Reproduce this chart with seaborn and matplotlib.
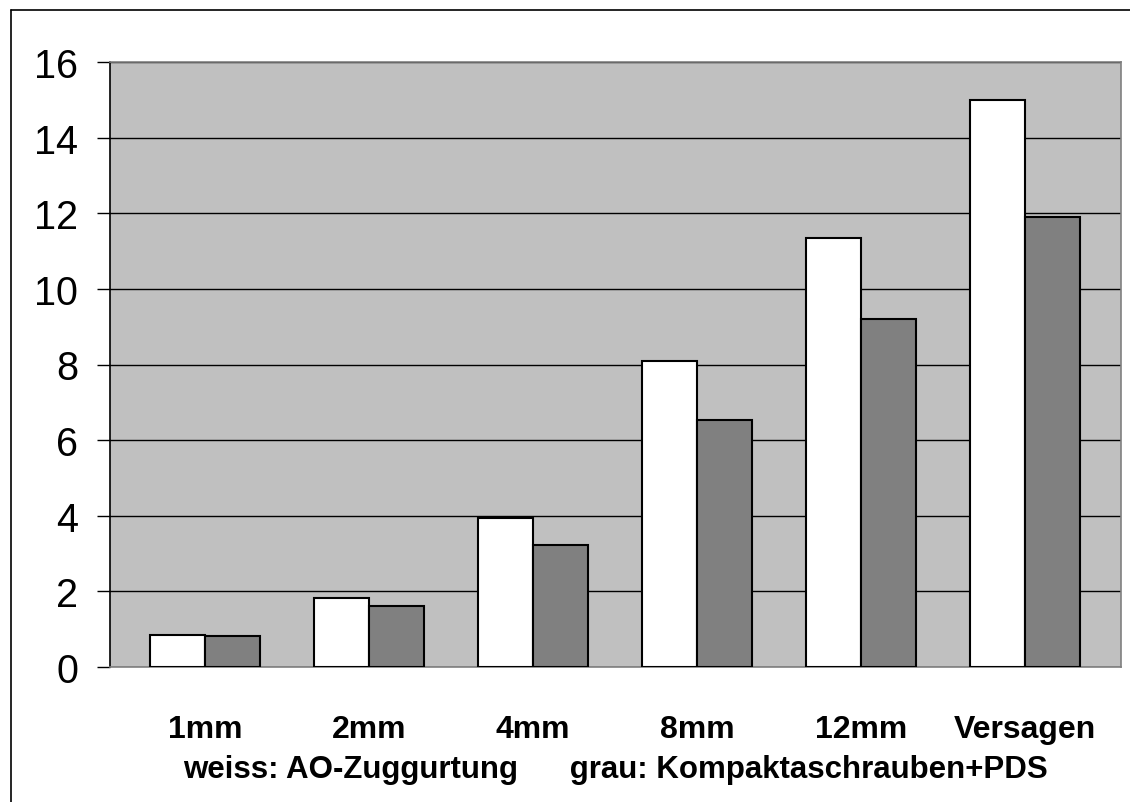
import matplotlib
matplotlib.use("Agg")
import matplotlib.pyplot as plt
from matplotlib.lines import Line2D
import seaborn as sns
import pandas as pd

# Displacement steps and measured values for the two fixation methods
steps = ["1mm", "2mm", "4mm", "8mm", "12mm", "Versagen"]
ao_zuggurtung = [0.85, 1.82, 3.94, 8.1, 11.35, 15.0]
kompaktschrauben_pds = [0.82, 1.61, 3.22, 6.53, 9.2, 11.9]
groups = ["AO-Zuggurtung", "Kompaktaschrauben+PDS"]
y_ticks = [0, 2, 4, 6, 8, 10, 12, 14, 16]

df = pd.DataFrame({
    "step": steps * 2,
    "value": ao_zuggurtung + kompaktschrauben_pds,
    "group": [groups[0]] * len(steps) + [groups[1]] * len(steps),
})

sns.set_theme(style="white")
plt.rcParams["font.family"] = ["Liberation Sans", "DejaVu Sans"]
plt.rcParams["text.color"] = "black"
plt.rcParams["axes.labelcolor"] = "black"
plt.rcParams["xtick.color"] = "black"
plt.rcParams["ytick.color"] = "black"

fig = plt.figure(figsize=(11.30, 8.03), dpi=100)
ax = fig.add_axes([110 / 1130, 1 - 668 / 803, (1121 - 110) / 1130, (668 - 63) / 803])
ax.set_facecolor("#C0C0C0")

sns.barplot(
    data=df, x="step", y="value", hue="group", order=steps, hue_order=groups,
    palette=["#FFFFFF", "#808080"], edgecolor="black", linewidth=1.5,
    width=0.67, saturation=1, legend=False, ax=ax, zorder=3,
)

ax.set_ylim(0, 16)
ax.set_xlim(-0.58, 5.585)
ax.set_yticks(y_ticks)
ax.set_yticklabels([str(v) for v in y_ticks], fontsize=28.5, color="black")
ax.yaxis.grid(True, color="black", linewidth=1.0, zorder=0)
ax.set_axisbelow(True)
ax.tick_params(axis="y", direction="out", length=9.5, width=1, color="black",
               pad=13.5, left=True)
ax.tick_params(axis="x", length=0, pad=34)
for lbl in ax.get_xticklabels():
    lbl.set_fontsize(23)
    lbl.set_fontweight("bold")
    lbl.set_color("black")

ax.set_xlabel("weiss: AO-Zuggurtung      grau: Kompaktaschrauben+PDS",
              fontsize=22.5, fontweight="bold", labelpad=7, color="black")
ax.set_ylabel("")

for side in ["top", "right", "bottom"]:
    ax.spines[side].set_color("#808080")
    ax.spines[side].set_linewidth(1.2)
ax.spines["left"].set_color("black")
ax.spines["left"].set_linewidth(1.2)

# Outer chart frame (left and top edges)
fig.add_artist(Line2D([11 / 1130, 11 / 1130], [0, 1 - 11 / 803],
                      transform=fig.transFigure, color="black", linewidth=1.2))
fig.add_artist(Line2D([11 / 1130, 1], [1 - 11 / 803, 1 - 11 / 803],
                      transform=fig.transFigure, color="black", linewidth=1.2))

fig.savefig("out.png", dpi=100)
